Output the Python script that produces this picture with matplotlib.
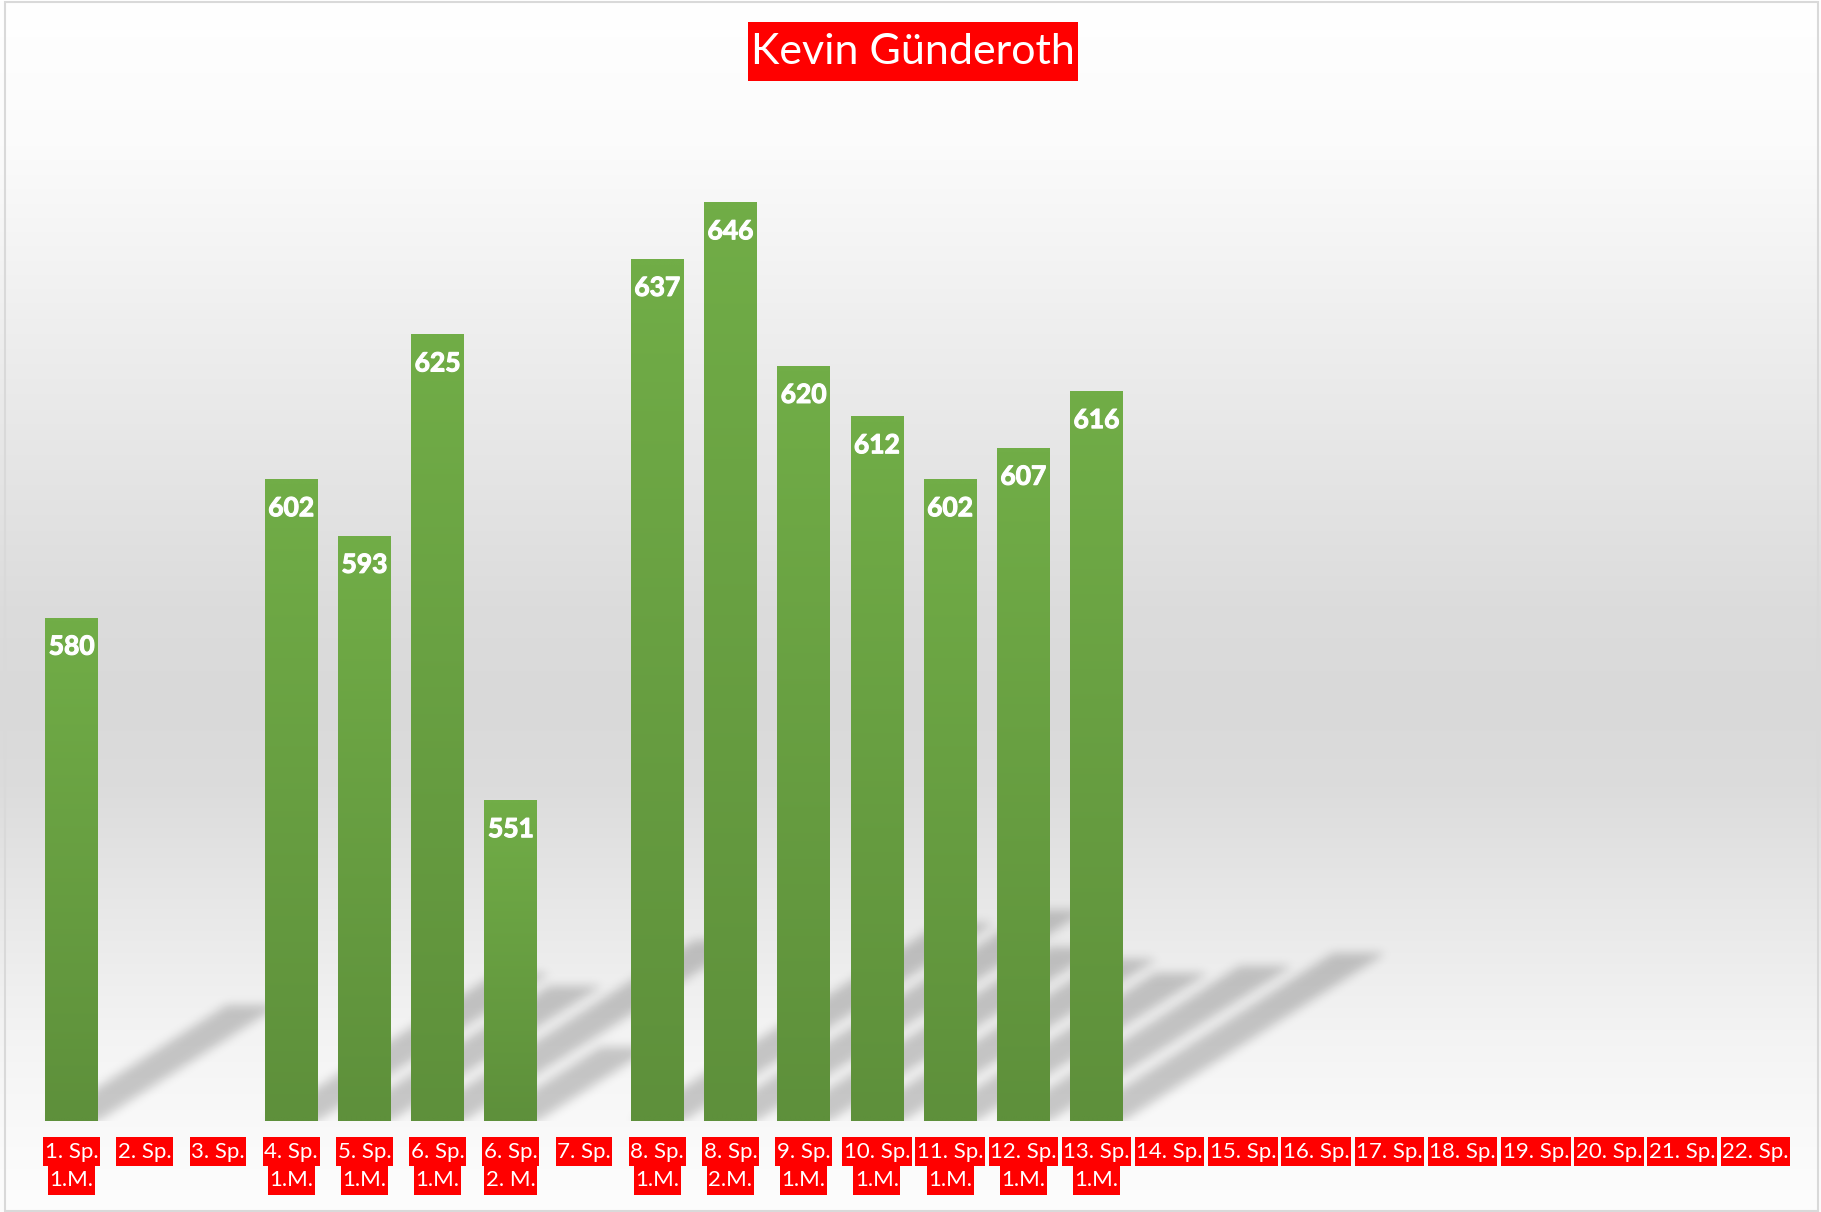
import numpy as np
import matplotlib
matplotlib.use("Agg")
import matplotlib.pyplot as plt
import matplotlib.patches as patches
import matplotlib.patheffects as pe

# Spieltage (Kategorien) und Ergebnisse
games = ["1. Sp.\n1.M.", "2. Sp.", "3. Sp.", "4. Sp.\n1.M.", "5. Sp.\n1.M.",
         "6. Sp.\n1.M.", "6. Sp.\n2. M.", "7. Sp.", "8. Sp.\n1.M.", "8. Sp.\n2.M.",
         "9. Sp.\n1.M.", "10. Sp.\n1.M.", "11. Sp.\n1.M.", "12. Sp.\n1.M.", "13. Sp.\n1.M.",
         "14. Sp.", "15. Sp.", "16. Sp.", "17. Sp.", "18. Sp.", "19. Sp.", "20. Sp.",
         "21. Sp.", "22. Sp."]
nan = np.nan
scores = [580, nan, nan, 602, 593, 625, 551, nan, 637, 646, 620, 612, 602, 607, 616,
          nan, nan, nan, nan, nan, nan, nan, nan, nan]
title = "Kevin Günderoth"

FONT = ["Lato", "DejaVu Sans"]
RED = "#ff0000"
Y_MIN, Y_MAX = 500, 660
BAR_W = 0.72
W_PX, H_PX = 1821, 1212


def bar_gradient(n=64):
    top = np.array([113, 173, 71]) / 255
    bot = np.array([94, 144, 59]) / 255
    t = np.linspace(0, 1, n)[:, None]
    return (bot * (1 - t) + top * t)[:, None, :]  # rows from bottom to top


def blur(img, sigma):
    r = int(3 * sigma)
    k = np.exp(-0.5 * (np.arange(-r, r + 1) / sigma) ** 2)
    k /= k.sum()
    pad = np.pad(img, r, mode="constant")
    out = np.zeros_like(pad)
    for j, w in enumerate(k):
        out += w * np.roll(pad, j - r, axis=1)
    pad = out
    out = np.zeros_like(pad)
    for j, w in enumerate(k):
        out += w * np.roll(pad, j - r, axis=0)
    return out[r:-r, r:-r]


def draw_background(fig):
    bg = fig.add_axes([0, 0, 1, 1], zorder=-10)
    pos = [0, 0.12, 0.25, 0.40, 0.50, 0.58, 0.65, 0.75, 0.85, 0.93, 1.0]
    val = [255, 251, 240, 228, 220, 217, 220, 232, 243, 249, 253]
    rows = np.interp(np.linspace(0, 1, 600), pos, val) / 255
    img = np.repeat(rows[:, None, None], 3, axis=2)
    bg.imshow(img, extent=(0, 1, 0, 1), aspect="auto", origin="upper")
    bg.set_xlim(0, 1)
    bg.set_ylim(0, 1)
    bg.axis("off")
    fig.patches.append(patches.Rectangle((5 / W_PX, 1 / H_PX), 1 - 8 / W_PX, 1 - 3 / H_PX,
                                         transform=fig.transFigure, fill=False,
                                         edgecolor="#d9d9d9", lw=1.5))


def draw_shadows(ax, x, y):
    bb = ax.get_window_extent()
    W, H = int(round(bb.width)), int(round(bb.height))
    xx = np.arange(W) + 0.5
    yy = np.arange(H) + 0.5
    mask = np.zeros((H, W))
    for xi, v in zip(x, y):
        if np.isnan(v):
            continue
        x0, yb = ax.transData.transform((xi - BAR_W / 2, Y_MIN)) - (bb.x0, bb.y0)
        x1, yt = ax.transData.transform((xi + BAR_W / 2, v)) - (bb.x0, bb.y0)
        h = yt - yb
        dx, dy = 0.36 * h, 0.23 * h
        t = ((yy - yb) / dy)[:, None]
        inside = (t >= 0) & (t <= 1) & (xx[None, :] >= x0 + t * dx) & (xx[None, :] <= x1 + t * dx)
        mask = np.maximum(mask, inside)
    mask = blur(mask, 5)
    rgba = np.zeros((H, W, 4))
    rgba[..., 3] = mask * 0.2
    ax.imshow(rgba, extent=(0, 1, 0, 1), transform=ax.transAxes, origin="lower",
              aspect="auto", zorder=1, interpolation="bilinear")


def red_boxes(fig, holder, texts, box_h, pad_x, z):
    # rote Kästchen hinter die Texte legen, Höhe fest in Pixeln
    fig.canvas.draw()
    r = fig.canvas.get_renderer()
    for t in texts:
        bb = t.get_window_extent(r)
        cy = (bb.y0 + bb.y1) / 2
        x0, w = bb.x0 - pad_x, bb.width + 2 * pad_x
        rect = patches.Rectangle((x0 / W_PX, (cy - box_h / 2) / H_PX), w / W_PX, box_h / H_PX,
                                 transform=fig.transFigure, facecolor=RED, edgecolor="none",
                                 zorder=z, clip_on=False)
        holder.add_artist(rect)


def main():
    fig = plt.figure(figsize=(W_PX / 100, H_PX / 100), dpi=100)
    draw_background(fig)

    ax = fig.add_axes([35 / W_PX, 1 - 1121 / H_PX, 1757 / W_PX, 1007 / H_PX])
    ax.set_facecolor("none")
    x = np.arange(len(games))
    y = np.array(scores, dtype=float)
    ax.set_xlim(-0.5, len(games) - 0.5)
    ax.set_ylim(Y_MIN, Y_MAX)

    draw_shadows(ax, x, y)

    bars = ax.bar(x, y, width=BAR_W, color="#68a042", zorder=2)
    grad = bar_gradient()
    for rect, v in zip(bars, y):
        if np.isnan(v):
            continue
        im = ax.imshow(grad, extent=(rect.get_x(), rect.get_x() + rect.get_width(), Y_MIN, v),
                       origin="lower", aspect="auto", zorder=3, interpolation="bilinear")
        im.set_clip_path(rect)
        ax.annotate(f"{int(v)}", (rect.get_x() + rect.get_width() / 2, v),
                    xytext=(0, -21), textcoords="offset points", ha="center", va="center",
                    color="white", fontsize=19, fontweight="bold", family=FONT, zorder=5,
                    path_effects=[pe.withStroke(linewidth=0.8, foreground="white")])
    ax.set_xlim(-0.5, len(games) - 0.5)
    ax.set_ylim(Y_MIN, Y_MAX)

    # Kategorie-Beschriftungen, jede Zeile einzeln
    tick_texts = []
    for xi, label in zip(x, games):
        for k, line in enumerate(label.split("\n")):
            tick_texts.append(ax.annotate(
                line, (xi, 0), xycoords=("data", "axes fraction"),
                xytext=(0, -22 - k * 20.5), textcoords="offset points",
                ha="center", va="center", color="white", fontsize=16, family=FONT,
                annotation_clip=False, zorder=10))

    ax.set_xticks([])
    ax.set_yticks([])
    for s in ax.spines.values():
        s.set_visible(False)

    ttl = fig.text(913 / W_PX, 1 - 51.5 / H_PX, title, ha="center", va="center",
                   color="white", fontsize=31, family=FONT, zorder=10)

    red_boxes(fig, ax, tick_texts, 29, 1.5, 9)
    red_boxes(fig, fig, [ttl], 59, 3, 4)

    fig.savefig("out.png", dpi=100)


if __name__ == "__main__":
    main()
